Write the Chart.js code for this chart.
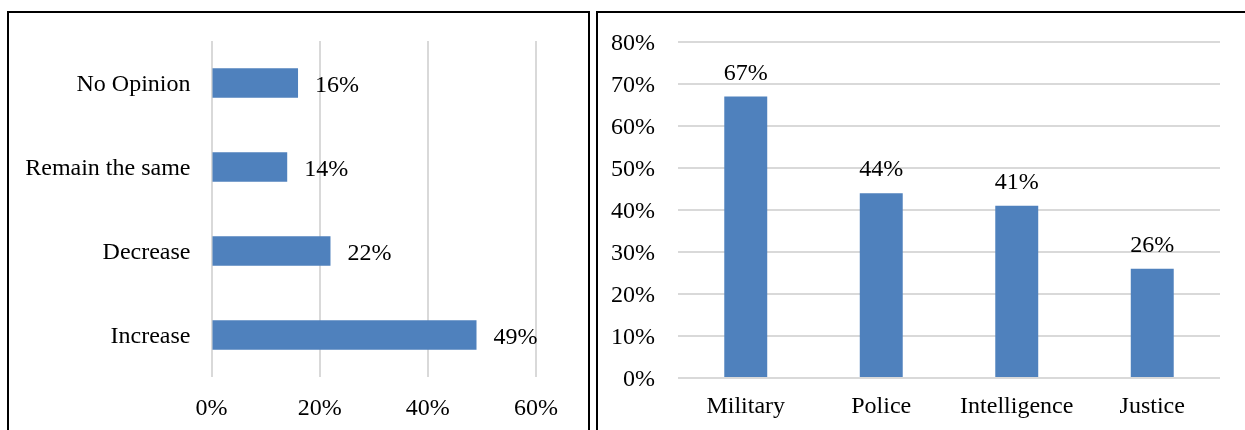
<!DOCTYPE html>
<html>
<head>
<meta charset="utf-8">
<script src="https://cdn.jsdelivr.net/npm/chart.js@4"></script>
<style>
    html, body { margin: 0; padding: 0; background: #fff; }
    body { width: 1245px; height: 430px; position: relative; overflow: hidden; }
    .panel { position: absolute; top: 11px; height: 440px; border: 2px solid #000; box-sizing: border-box; }
    #panel-left { left: 7px; width: 583px; }
    #panel-right { left: 596px; width: 680px; }
    canvas { position: absolute; left: 0; top: 0; }
</style>
</head>
<body>
<div class="panel" id="panel-left"></div>
<div class="panel" id="panel-right"></div>
<canvas id="leftChart" width="1245" height="430"></canvas>
<canvas id="rightChart" width="1245" height="430"></canvas>
<script>
let opinionLabels = ["No Opinion", "Remain the same", "Decrease", "Increase"],
    opinionValues = [16, 14, 22, 49];

let sectorLabels = ["Military", "Police", "Intelligence", "Justice"],
    sectorValues = [67, 44, 41, 26];

const barColor = "rgb(79, 129, 189)";
const gridColor = "#d9d9d9";
const font = { family: "'Liberation Serif', 'Times New Roman', serif", size: 24 };

Chart.defaults.font.family = font.family;
Chart.defaults.font.size = font.size;
Chart.defaults.color = "#000";

// writes the value next to each bar
const valueLabels = {
    id: "valueLabels",
    afterDatasetsDraw: (chart) => {
        let ctx = chart.ctx;
        let horizontal = chart.options.indexAxis === "y";
        let meta = chart.getDatasetMeta(0);

        ctx.save();
        ctx.font = font.size + "px " + font.family;
        ctx.fillStyle = "#000";
        ctx.textBaseline = "alphabetic";

        meta.data.forEach((bar, i) => {
            let text = chart.data.datasets[0].data[i] + "%";
            if (horizontal) {
                ctx.textAlign = "left";
                ctx.fillText(text, bar.x + 17, bar.y + 9);
            }
            else {
                ctx.textAlign = "center";
                ctx.fillText(text, bar.x, bar.y - 17);
            }
        });

        ctx.restore();
    }
};

new Chart(document.getElementById("leftChart"), {
    type: "bar",
    data: {
        labels: opinionLabels,
        datasets: [{
            data: opinionValues,
            backgroundColor: barColor,
            barPercentage: 0.35,
            categoryPercentage: 1
        }]
    },
    options: {
        indexAxis: "y",
        responsive: false,
        animation: false,
        layout: { padding: { left: 0, right: 709, top: 41, bottom: 0 } },
        plugins: { legend: { display: false }, tooltip: { enabled: false } },
        scales: {
            x: {
                min: 0,
                max: 60,
                ticks: { stepSize: 20, padding: 17, callback: (v) => v + "%" },
                grid: { color: gridColor, lineWidth: 2, drawTicks: false },
                border: { display: false },
                afterFit: (scale) => { scale.height = 53; }
            },
            y: {
                ticks: { padding: 21, labelOffset: 2 },
                grid: { display: false, drawTicks: false },
                border: { display: false },
                afterFit: (scale) => { scale.width = 211.5; }
            }
        }
    },
    plugins: [valueLabels]
});

new Chart(document.getElementById("rightChart"), {
    type: "bar",
    data: {
        labels: sectorLabels,
        datasets: [{
            data: sectorValues,
            backgroundColor: barColor,
            barPercentage: 0.317,
            categoryPercentage: 1
        }]
    },
    options: {
        responsive: false,
        animation: false,
        layout: { padding: { left: 0, right: 25, top: 42, bottom: 0 } },
        plugins: { legend: { display: false }, tooltip: { enabled: false } },
        scales: {
            x: {
                ticks: { padding: 14 },
                grid: { display: false, drawTicks: false },
                border: { display: false },
                afterFit: (scale) => { scale.height = 52; }
            },
            y: {
                min: 0,
                max: 80,
                ticks: { stepSize: 10, padding: 23, labelOffset: 2, callback: (v) => v + "%" },
                grid: { color: gridColor, lineWidth: 2, drawTicks: false },
                border: { display: false },
                afterFit: (scale) => { scale.width = 678; }
            }
        }
    },
    plugins: [valueLabels]
});
</script>
</body>
</html>
